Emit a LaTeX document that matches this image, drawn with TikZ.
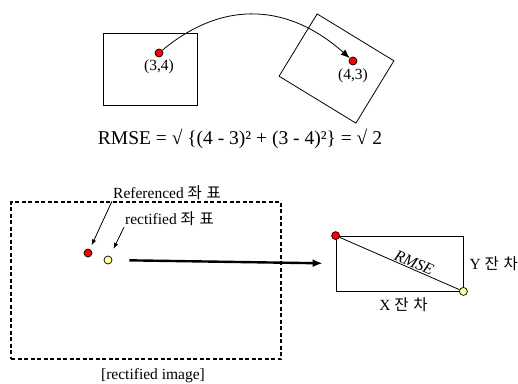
\documentclass[tikz,border=0pt]{standalone}
\usepackage{fontspec}
\setmainfont{Liberation Serif}
\newfontfamily\krfont[LetterSpace=30]{Noto Sans CJK KR}
\usetikzlibrary{positioning,arrows.meta}
\definecolor{ptred}{RGB}{255,0,0}
\definecolor{ptyellow}{RGB}{255,255,153}

\begin{document}
\begin{tikzpicture}[x=1pt, y=-1pt,
		frame/.style={draw, line width=0.8pt, inner sep=0pt},
		dot/.style={circle, draw, line width=0.7pt, inner sep=0pt, minimum size=8pt},
		refdot/.style={dot, fill=ptred},
		rectdot/.style={dot, fill=ptyellow},
		lbl/.style={font=\fontsize{15.5}{17}\selectfont, inner sep=1pt},
		arrow/.style={-{Latex[length=6pt,width=4.5pt]}, line width=0.8pt},
		bigarrow/.style={-{Latex[length=10pt,width=8pt]}, line width=2.4pt}
	]
		\useasboundingbox (0,0) rectangle (518,383);

		% top: point before and after the transform
		\node[frame, minimum width=94pt, minimum height=72pt] (src) at (150,69) {};
		\node[frame, minimum width=90pt, minimum height=73pt, rotate=-31.4] (dst) at (336.5,68.5) {};
		\node[refdot] (p34) at (159,53) {};
		\node[lbl, anchor=north] (t34) at (159,59) {(3,4)};
		\node[refdot] (p43) at (353,61) {};
		\node[lbl, anchor=north] (t43) at (353,68) {(4,3)};
		\draw[arrow, -{Latex[length=9pt,width=7pt]}] (p34) .. controls (225,-2) and (290,5) .. (p43);
		\node[font=\fontsize{19.5}{21}\selectfont] (rmse) at (240,139) {RMSE = √ \{(4 - 3)² + (3 - 4)²\} = √ 2};

		% bottom: rectified image and residuals
		\node[draw, dashed, dash pattern=on 4pt off 2.5pt, line width=1.4pt,
			minimum width=270pt, minimum height=157pt] (img) at (146,280.5) {};
		\node[lbl, anchor=north] (imgname) at (153,367) {[rectified image]};
		\node[refdot] (pref) at (88,253) {};
		\node[rectdot] (prect) at (108,260) {};
		\node[lbl, anchor=west] (tref) at (112,193) {Referenced {\krfont 좌표}};
		\node[lbl, anchor=west] (trect) at (124,219) {rectified {\krfont 좌표}};
		\draw[arrow, shorten >=4pt] (tref.south west) -- (pref);
		\draw[arrow, shorten >=8pt] (trect.south west) -- (prect);

		\node[frame, minimum width=127pt, minimum height=55pt] (xy) at (399.5,263.5) {};
		\node[refdot] (q1) at (xy.north west) {};
		\node[rectdot] (q2) at (xy.south east) {};
		\draw[line width=0.8pt] (q1) -- node[lbl, sloped, above, pos=0.6, font=\fontsize{16}{18}\selectfont\itshape] (lrmse) {RMSE} (q2);
		\node[lbl, anchor=west] (ty) at ([xshift=5pt]xy.east) {Y {\krfont 잔차}};
		\node[lbl, anchor=north] (tx) at ([xshift=4pt,yshift=-5pt]xy.south) {X {\krfont 잔차}};
		\draw[bigarrow, shorten <=17pt, shorten >=13pt] (prect) -- (xy.west);
	\end{tikzpicture}
\end{document}
